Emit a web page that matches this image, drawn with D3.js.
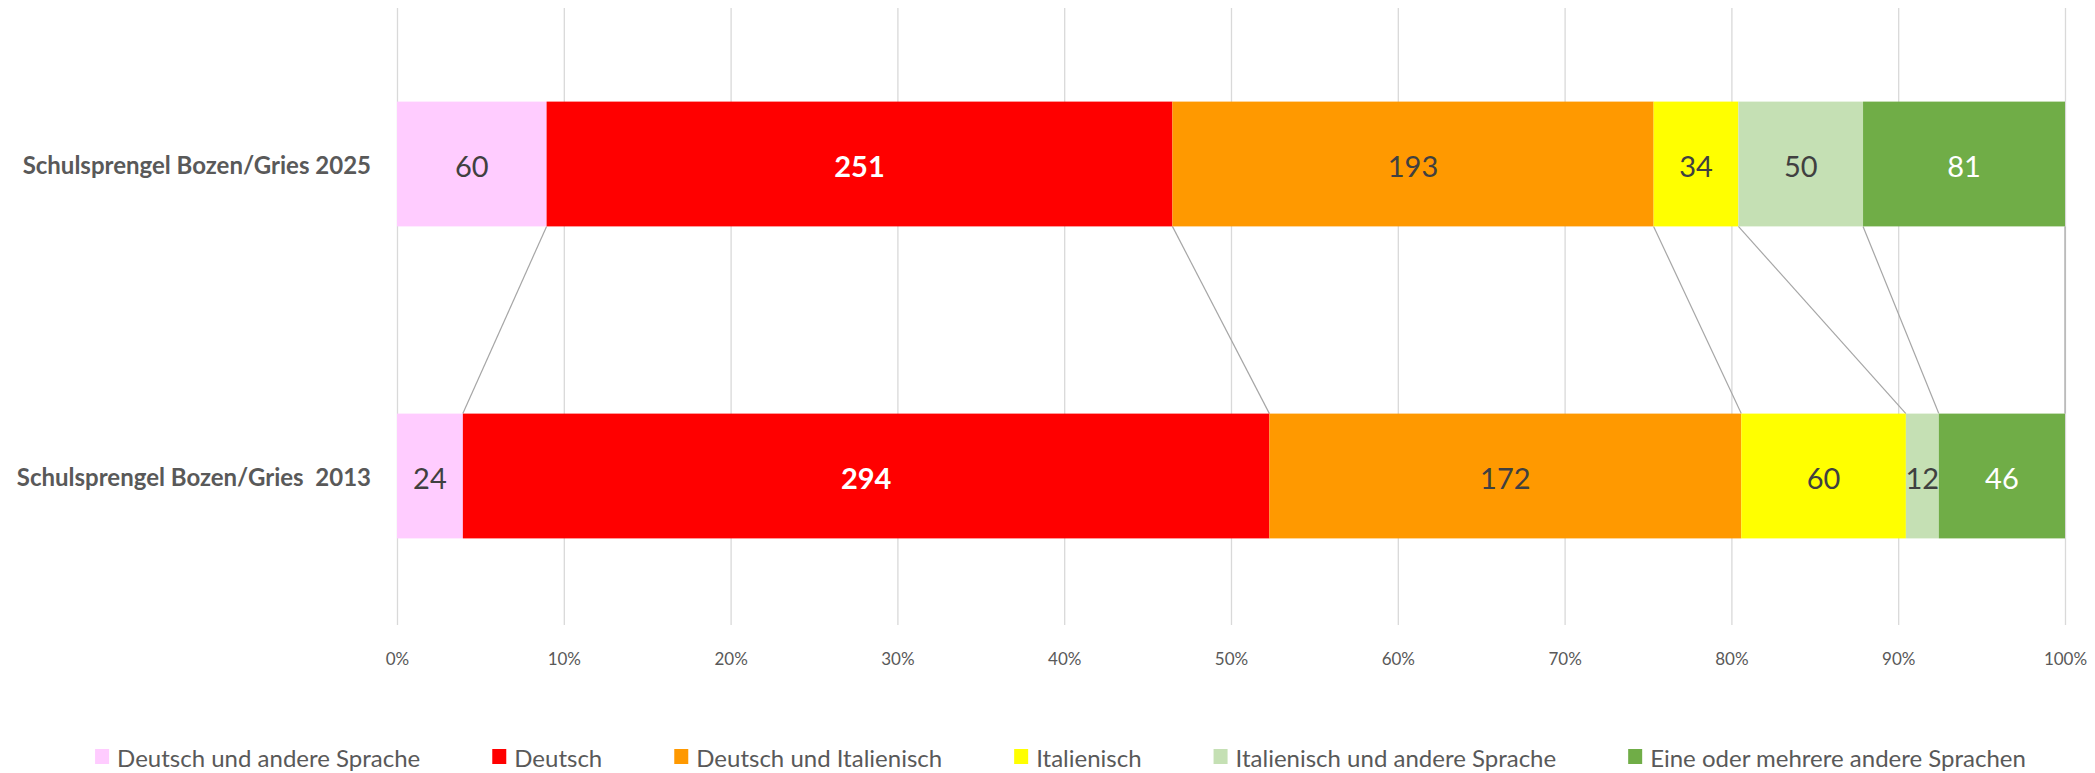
<!DOCTYPE html>
<html>
<head>
<meta charset="utf-8">
<script src="https://cdn.jsdelivr.net/npm/d3@7"></script>
<style>
  body { margin: 0; background: #fff; }
</style>
</head>
<body>
<div id="chart"></div>
<script>
// data
const categories = ["Schulsprengel Bozen/Gries 2025", "Schulsprengel Bozen/Gries  2013"];
const seriesNames = [
  "Deutsch und andere Sprache",
  "Deutsch",
  "Deutsch und Italienisch",
  "Italienisch",
  "Italienisch und andere Sprache",
  "Eine oder mehrere andere Sprachen"
];
const values2025 = [60, 251, 193, 34, 50, 81];
const values2013 = [24, 294, 172, 60, 12, 46];
const tickValues = [0, 0.1, 0.2, 0.3, 0.4, 0.5, 0.6, 0.7, 0.8, 0.9, 1];

const colors = ["#FFCCFF", "#FF0000", "#FF9900", "#FFFF00", "#C5E0B4", "#70AD47"];
const labelColors = ["#404040", "#FFFFFF", "#404040", "#404040", "#404040", "#FFFFFF"];
const labelWeights = ["normal", "bold", "normal", "normal", "normal", "normal"];

const W = 2095, H = 773;
const margin = { top: 8, right: 30, bottom: 148, left: 397 };
const FONT = "Lato, 'Open Sans', sans-serif";

const svg = d3.select("#chart").append("svg")
  .attr("width", W)
  .attr("height", H)
  .style("font-family", FONT);

const x = d3.scaleLinear([0, 1], [margin.left, W - margin.right]);
const y = d3.scaleBand(categories, [margin.top, margin.top + 624])
  .paddingInner(0.6)
  .paddingOuter(0.3);

// stack the shares
const rows = [values2025, values2013].map((vals, i) => {
  const total = d3.sum(vals);
  let acc = 0;
  return vals.map((v, j) => {
    const s = { cat: categories[i], series: j, value: v, x0: acc / total };
    acc += v;
    s.x1 = acc / total;
    return s;
  });
});

// grid + axis
const axis = d3.axisBottom(x)
  .tickValues(tickValues)
  .tickFormat(d3.format(".0%"))
  .tickSizeInner(-(H - margin.bottom - margin.top))
  .tickSizeOuter(0)
  .tickPadding(28);

const gx = svg.append("g")
  .attr("transform", `translate(0,${H - margin.bottom})`)
  .call(axis);
gx.select(".domain").remove();
gx.selectAll(".tick line").attr("stroke", "#d9d9d9").attr("stroke-width", 1.3);
gx.selectAll(".tick text")
  .attr("fill", "#595959")
  .style("font-size", "17px")
  .style("font-family", FONT);

// series lines between the bars
const rowA = rows[0], rowB = rows[1];
svg.append("g")
  .selectAll("line")
  .data(d3.range(seriesNames.length))
  .join("line")
  .attr("x1", (j) => x(rowA[j].x1))
  .attr("y1", y(categories[0]) + y.bandwidth())
  .attr("x2", (j) => x(rowB[j].x1))
  .attr("y2", y(categories[1]))
  .attr("stroke", "#a6a6a6")
  .attr("stroke-width", 1.2);

// bars
const segs = rows.flat();
svg.append("g")
  .selectAll("rect")
  .data(segs)
  .join("rect")
  .attr("x", (d) => x(d.x0))
  .attr("y", (d) => y(d.cat))
  .attr("width", (d) => x(d.x1) - x(d.x0))
  .attr("height", y.bandwidth())
  .attr("fill", (d) => colors[d.series]);

// data labels
svg.append("g")
  .selectAll("text")
  .data(segs)
  .join("text")
  .attr("x", (d) => (x(d.x0) + x(d.x1)) / 2)
  .attr("y", (d) => y(d.cat) + y.bandwidth() / 2 + 1)
  .attr("text-anchor", "middle")
  .attr("dominant-baseline", "central")
  .attr("fill", (d) => labelColors[d.series])
  .style("font-weight", (d) => labelWeights[d.series])
  .style("font-size", "29px")
  .text((d) => d.value);

// category labels
svg.append("g")
  .selectAll("text")
  .data(categories)
  .join("text")
  .attr("x", margin.left - 26)
  .attr("y", (d) => y(d) + y.bandwidth() / 2)
  .attr("text-anchor", "end")
  .attr("dominant-baseline", "central")
  .attr("fill", "#595959")
  .style("font-weight", "bold")
  .style("font-size", "24px")
  .style("white-space", "pre")
  .text((d) => d);

// legend
const legend = svg.append("g");
const items = legend.selectAll("g")
  .data(seriesNames)
  .join("g");
items.append("rect")
  .attr("width", 14)
  .attr("height", 15)
  .attr("y", -8)
  .attr("fill", (d, i) => colors[i]);
items.append("text")
  .attr("x", 22)
  .attr("dominant-baseline", "central")
  .attr("fill", "#595959")
  .style("font-size", "24px")
  .text((d) => d);

const GAP = 72;
let lx = 0;
items.each(function () {
  const g = d3.select(this);
  g.attr("transform", `translate(${lx},0)`);
  lx += 22 + g.select("text").node().getComputedTextLength() + GAP;
});
const legendWidth = lx - GAP;
legend.attr("transform", `translate(${(W - legendWidth) / 2 + 13},757)`);
</script>
</body>
</html>
